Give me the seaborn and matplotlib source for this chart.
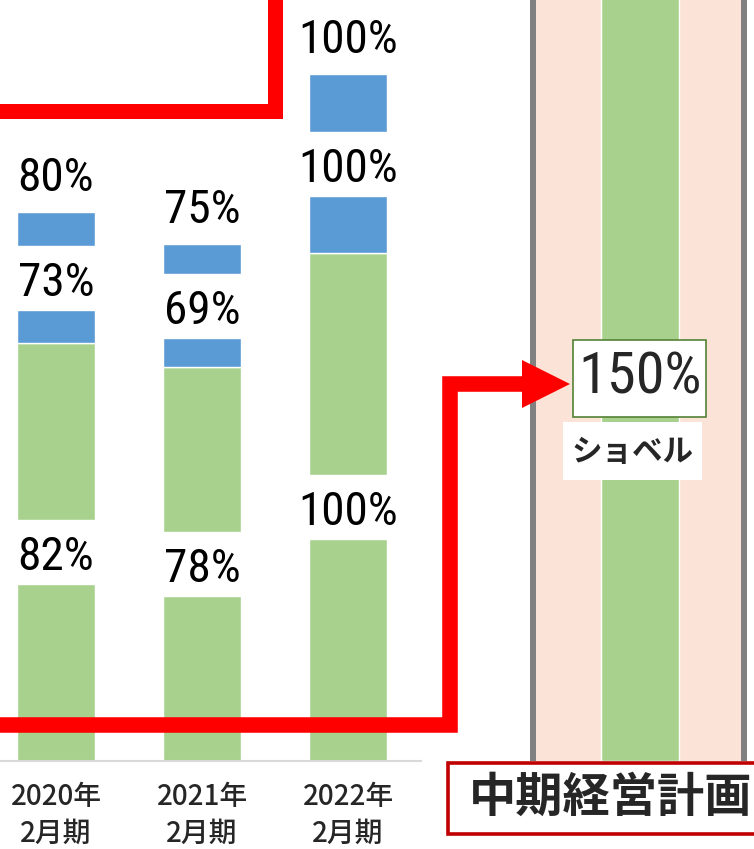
import numpy as np
import pandas as pd
import matplotlib
matplotlib.use("Agg")
import matplotlib.pyplot as plt
import seaborn as sns
from matplotlib import font_manager as fm
from matplotlib.lines import Line2D
from matplotlib.patches import Rectangle, Polygon

# ---------------- data ----------------
categories = ["2020年\n2月期", "2021年\n2月期", "2022年\n2月期", " ", "中期経営計画"]
years = categories[:3]
shovel_height = [79.7, 74.3, 100.0]     # green segments (drawn twice)
crane_height = [15.1, 13.3, 25.9]       # blue segments (drawn twice)
spacer_height = [28.8, 28.8, 28.8]      # invisible gaps between stacks
shovel_labels = ["82%", "78%", "100%"]
total_labels = ["73%", "69%", "100%"]
crane_labels = ["80%", "75%", "100%"]
plan_height = [400.0]
plan_label = "150%"
plan_series = "ショベル"
plan_title = "中期経営計画"

GREEN = "#A9D18E"
BLUE = "#5B9BD5"
PINK = "#FBE4D7"
GRAY = "#808080"
RED = "#FF0000"

sns.set_style("white")
plt.rcParams["font.family"] = ["Noto Sans CJK JP", "DejaVu Sans"]

installed = {f.name for f in fm.fontManager.ttflist}
narrow = None
for cand in ["Roboto Condensed", "Liberation Sans Narrow", "Open Sans Condensed",
             "DejaVu Sans Condensed", "Roboto"]:
    if cand in installed:
        narrow = cand
        break
NUM_FONT = [narrow, "DejaVu Sans"] if narrow else ["DejaVu Sans"]
condensed = narrow is not None and narrow != "Roboto"
LABEL_SIZE = 34 if condensed else 29
PLAN_SIZE = 42 if condensed else 37

W, H = 754, 849
fig = plt.figure(figsize=(W / 100, H / 100), dpi=100)
base_px = 761
ax = fig.add_axes([0, (H - base_px) / H, 1, base_px / H])

def fx(px):
    return px / W

def fy(py):
    return 1 - py / H

s = np.array(shovel_height)
c = np.array(crane_height)
g = np.array(spacer_height)

layers = [
    (s, np.zeros(3), GREEN),
    (s, s + g, GREEN),
    (c, 2 * s + g, BLUE),
    (c, 2 * s + c + 2 * g, BLUE),
]
for h, b, col in layers:
    df = pd.DataFrame({"cat": years, "h": h})
    sns.barplot(data=df, x="cat", y="h", order=categories, color=col,
                width=0.53, errorbar=None, bottom=b, ax=ax, zorder=3,
                saturation=1)

# plan bar
dfp = pd.DataFrame({"cat": [categories[4]], "h": plan_height})
sns.barplot(data=dfp, x="cat", y="h", order=categories, color=GREEN,
            width=0.53, errorbar=None, ax=ax, zorder=3, saturation=1)

px_per_unit = 2.22
ax.set_xlim(-56 / 146, (W - 56) / 146)
ax.set_ylim(0, base_px / px_per_unit)

# pink band behind the plan bar
xl, xr = (532.5 - 56) / 146, (744 - 56) / 146
ax.axvspan(xl, xr, color=PINK, zorder=1, lw=0)
ax.axvline(xl, color=GRAY, lw=4.3, zorder=2)
ax.axvline(xr, color=GRAY, lw=4.3, zorder=2)

# labels
tops_bottom = s
tops_mid = 2 * s + c + g
tops_top = 2 * s + 2 * c + 2 * g
for i in range(3):
    for val, lab, off in [(tops_bottom[i], shovel_labels[i], 10),
                          (tops_mid[i], total_labels[i], 10),
                          (tops_top[i], crane_labels[i], 15)]:
        ax.annotate(lab, (i, val), xytext=(0, off), textcoords="offset points",
                    ha="center", va="baseline", fontsize=LABEL_SIZE,
                    family=NUM_FONT, color="black", zorder=5)

# axes styling
for sp in ["left", "top", "right"]:
    ax.spines[sp].set_visible(False)
ax.spines["bottom"].set_color("#D9D9D9")
ax.spines["bottom"].set_linewidth(1.5)
ax.spines["bottom"].set_bounds(-56 / 146, 2.5)
ax.spines["bottom"].set_zorder(4)
ax.set_yticks([])
ax.set_xticks([0, 1, 2], labels=years)
ax.set_xticks([0.5, 1.5, 2.5], minor=True)
ax.tick_params(axis="x", which="major", length=0, pad=15, labelsize=20)
ax.tick_params(axis="x", which="minor", length=5, width=1.5, color="#D9D9D9")
for t in ax.get_xticklabels():
    t.set_linespacing(1.35)
    t.set_fontweight("medium")
ax.set_xlabel("")
ax.set_ylabel("")

# red arrows (figure pixel coords)
upper = Line2D([fx(-10), fx(274.5), fx(274.5)], [fy(110.5), fy(110.5), fy(-20)],
               transform=fig.transFigure, color=RED, lw=10.8,
               solid_joinstyle="miter", solid_capstyle="butt", zorder=10)
fig.add_artist(upper)
lower = Line2D([fx(-10), fx(449.5), fx(449.5), fx(526)],
               [fy(724.5), fy(724.5), fy(384), fy(384)],
               transform=fig.transFigure, color=RED, lw=11.2,
               solid_joinstyle="miter", solid_capstyle="butt", zorder=10)
fig.add_artist(lower)
head = Polygon([(fx(522), fy(360)), (fx(570), fy(384)), (fx(522), fy(408))],
               closed=True, transform=fig.transFigure, color=RED, lw=0, zorder=10)
fig.add_artist(head)

# 150% box
fig.add_artist(Rectangle((fx(573), fy(417)), fx(706) - fx(573), fy(340) - fy(417),
                         transform=fig.transFigure, facecolor="white",
                         edgecolor="#548235", lw=1.2, zorder=11))
fig.text(fx(640), fy(378), plan_label, ha="center", va="center", fontsize=PLAN_SIZE,
         family=NUM_FONT, zorder=12)
# shovel label box
fig.add_artist(Rectangle((fx(563), fy(480)), fx(702) - fx(563), fy(422) - fy(480),
                         transform=fig.transFigure, facecolor="white",
                         edgecolor="none", zorder=11))
fig.text(fx(632), fy(452), plan_series, ha="center", va="center", fontsize=22,
         fontweight="bold", zorder=12)

# mid-term plan box
fig.add_artist(Rectangle((fx(448), fy(834)), fx(790) - fx(448), fy(763) - fy(834),
                         transform=fig.transFigure, facecolor="white",
                         edgecolor="#C00000", lw=2.6, zorder=11))
fig.text(fx(611), fy(798), plan_title, ha="center", va="center", fontsize=34,
         fontweight="bold", zorder=12)

fig.savefig("out.png", dpi=100)
